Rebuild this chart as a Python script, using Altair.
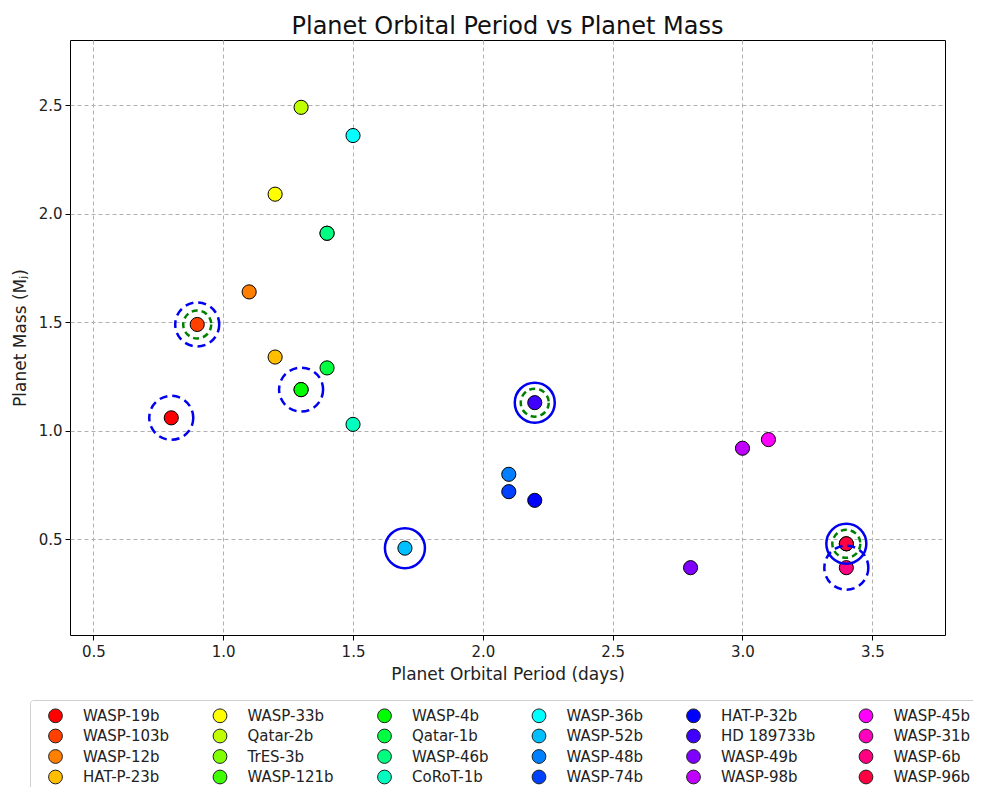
import altair as alt
import pandas as pd

names = ["WASP-19b", "WASP-103b", "WASP-12b", "HAT-P-23b",
         "WASP-33b", "Qatar-2b", "TrES-3b", "WASP-121b",
         "WASP-4b", "Qatar-1b", "WASP-46b", "CoRoT-1b",
         "WASP-36b", "WASP-52b", "WASP-48b", "WASP-74b",
         "HAT-P-32b", "HD 189733b", "WASP-49b", "WASP-98b",
         "WASP-45b", "WASP-31b", "WASP-6b", "WASP-96b"]
periods = [0.8, 0.9, 1.1, 1.2,
           1.2, 1.3, 1.4, 1.3,
           1.3, 1.4, 1.4, 1.5,
           1.5, 1.7, 2.1, 2.1,
           2.2, 2.2, 2.8, 3.0,
           3.1, 3.4, 3.4, 3.4]
masses = [1.06, 1.49, 1.64, 1.34,
          2.09, 2.49, 1.91, 1.19,
          1.19, 1.29, 1.91, 1.03,
          2.36, 0.46, 0.80, 0.72,
          0.68, 1.13, 0.37, 0.92,
          0.96, 0.48, 0.37, 0.48]
colors = ["#ff0000", "#ff4000", "#ff8000", "#ffbf00",
          "#ffff00", "#bfff00", "#80ff00", "#40ff00",
          "#00ff00", "#00ff40", "#00ff80", "#00ffbf",
          "#00ffff", "#00bfff", "#0080ff", "#0040ff",
          "#0000ff", "#4000ff", "#8000ff", "#bf00ff",
          "#ff00ff", "#ff00bf", "#ff0080", "#ff0040"]

blue_dashed_p = [0.8, 0.9, 1.3, 3.4]
blue_dashed_m = [1.06, 1.49, 1.19, 0.37]
green_dashed_p = [0.9, 2.2, 3.4]
green_dashed_m = [1.49, 1.13, 0.48]
blue_solid_p = [1.7, 2.2, 3.4]
blue_solid_m = [0.46, 1.13, 0.48]

x_ticks = [0.5, 1.0, 1.5, 2.0, 2.5, 3.0, 3.5]
y_ticks = [0.5, 1.0, 1.5, 2.0, 2.5]

df = pd.DataFrame({"name": names, "period": periods, "mass": masses})

xs = alt.Scale(domain=[0.41, 3.78], nice=False, zero=False)
ys = alt.Scale(domain=[0.06, 2.80], nice=False, zero=False)

x_axis = alt.Axis(values=x_ticks, format=".1f", title="Planet Orbital Period (days)",
                  grid=True, gridDash=[4, 3], gridColor="#b0b0b0",
                  tickSize=5, tickColor="black", labelPadding=4,
                  labelFontSize=15, titleFontSize=17, titlePadding=7,
                  titleFontWeight="normal", domain=False, labelColor="#222", titleColor="#222")
y_axis = alt.Axis(values=y_ticks, format=".1f", title="Planet Mass (Mⱼ)",
                  grid=True, gridDash=[4, 3], gridColor="#b0b0b0",
                  tickSize=5, tickColor="black", labelPadding=3,
                  labelFontSize=15, titleFontSize=17, titlePadding=9,
                  titleFontWeight="normal", domain=False, labelColor="#222", titleColor="#222")

points = alt.Chart(df).mark_point(shape="circle", filled=True, size=200, opacity=1,
                                  stroke="black", strokeWidth=1).encode(
    x=alt.X("period:Q", scale=xs, axis=x_axis),
    y=alt.Y("mass:Q", scale=ys, axis=y_axis),
    color=alt.Color("name:N", scale=alt.Scale(domain=names, range=colors),
                    sort=names,
                    legend=alt.Legend(orient="none", legendX=-40, legendY=660,
                                      direction="vertical",
                                      columns=6, gridAlign="each", title=None,
                                      symbolType="circle", symbolSize=190,
                                      symbolStrokeColor="#222", symbolStrokeWidth=1,
                                      symbolOpacity=1, symbolOffset=10,
                                      labelFontSize=15, labelOffset=20, labelColor="#222",
                                      labelLimit=0, rowPadding=1.5, columnPadding=32.5,
                                      padding=8, strokeColor="#d0d0d0", fillColor="white",
                                      cornerRadius=3)),
)

def ring(p, m, color, size, dash=None):
    d = pd.DataFrame({"period": p, "mass": m})
    kw = dict(shape="circle", filled=False, size=size, stroke=color, strokeWidth=2.5, opacity=1)
    if dash:
        kw["strokeDash"] = dash
    return alt.Chart(d).mark_point(**kw).encode(
        x=alt.X("period:Q", scale=xs),
        y=alt.Y("mass:Q", scale=ys),
    )

rings = [
    ring(blue_dashed_p, blue_dashed_m, "#0000ee", 1936, [8, 5]),
    ring(green_dashed_p, green_dashed_m, "#008000", 784, [6, 4]),
    ring(blue_solid_p, blue_solid_m, "#0000ee", 1600),
]

chart = alt.layer(points, *rings).properties(
    width=875, height=595,
    title=alt.TitleParams("Planet Orbital Period vs Planet Mass", fontSize=24,
                          fontWeight="normal", anchor="middle", baseline="alphabetic",
                          offset=7, dy=25, color="#111"),
    autosize=alt.AutoSizeParams(type="none"),
    padding={"left": 62, "top": 32, "right": 28, "bottom": 152},
).configure(font="DejaVu Sans").configure_view(stroke="black", strokeWidth=1)

chart.save("out.html", embed_options={"renderer": "svg", "actions": False})
